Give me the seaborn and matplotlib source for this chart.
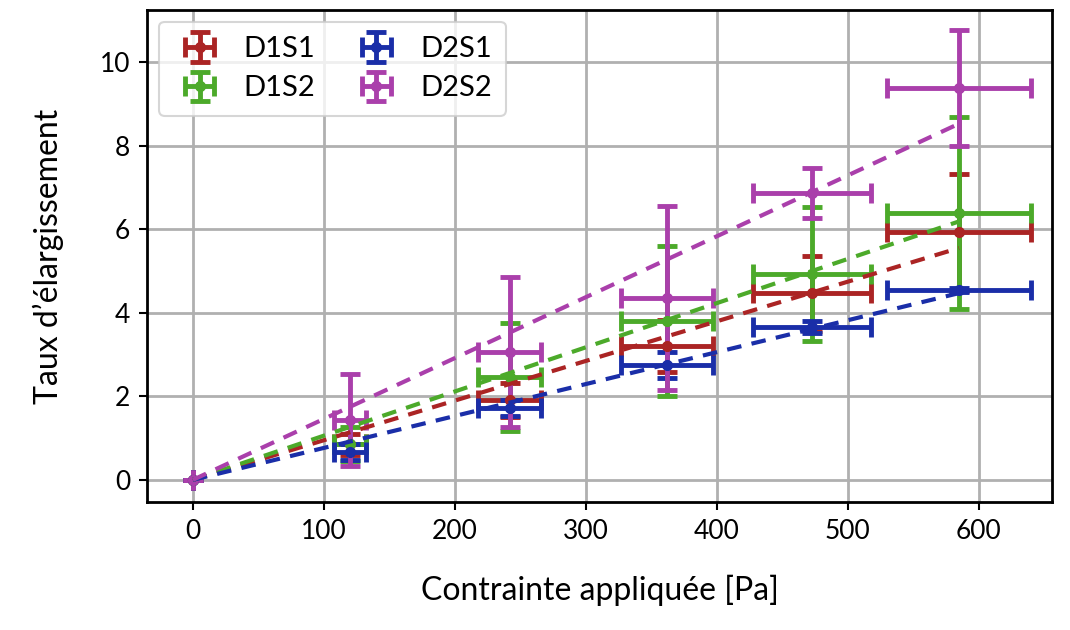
import numpy as np
import pandas as pd
import matplotlib
matplotlib.use("Agg")
import matplotlib.pyplot as plt
import seaborn as sns

stress = [0, 120, 242, 362, 473, 585]
stress_err = [0, 12, 24, 35, 45, 55]

series_names = ["D1S1", "D1S2", "D2S1", "D2S2"]
d1s1 = [0, 0.85, 1.91, 3.2, 4.47, 5.93]
d1s1_err = [0, 0.25, 0.4, 0.62, 0.9, 1.4]
d1s2 = [0, 0.86, 2.46, 3.8, 4.93, 6.39]
d1s2_err = [0, 0.4, 1.3, 1.8, 1.6, 2.3]
d2s1 = [0, 0.67, 1.72, 2.75, 3.66, 4.55]
d2s1_err = [0, 0.2, 0.2, 0.32, 0.15, 0.05]
d2s2 = [0, 1.43, 3.06, 4.35, 6.87, 9.38]
d2s2_err = [0, 1.1, 1.8, 2.2, 0.6, 1.39]

colors = ["#ab2424", "#4caa2a", "#1a2ea8", "#aa3fab"]

sns.set_style("whitegrid")
plt.rcParams['font.family'] = ['Lato', 'DejaVu Sans']
plt.rcParams['text.color'] = 'black'
plt.rcParams['axes.labelcolor'] = 'black'
plt.rcParams['xtick.color'] = 'black'
plt.rcParams['ytick.color'] = 'black'

fig, ax = plt.subplots(figsize=(10.7, 6.3), dpi=100)
fig.subplots_adjust(left=147/1070, right=1052/1070, top=1-10/630, bottom=1-502/630)

values = [d1s1, d1s2, d2s1, d2s2]
errs = [d1s1_err, d1s2_err, d2s1_err, d2s2_err]

x = np.array(stress, dtype=float)
handles = []
for name, y, ye, c in zip(series_names, values, errs, colors):
    y = np.array(y, dtype=float)
    h = ax.errorbar(x, y, xerr=stress_err, yerr=ye, fmt="o", color=c, ms=7,
                    elinewidth=3.5, capsize=7, capthick=3.5, label=name, zorder=3)
    handles.append(h)
    slope = np.sum(x * y) / np.sum(x * x)
    fit = pd.DataFrame({"x": [0, x[-1]], "y": [0, slope * x[-1]]})
    sns.lineplot(data=fit, x="x", y="y", ax=ax, color=c, lw=3,
                 linestyle=(0, (3.5, 2.5)), zorder=4, legend=False)

ax.set_xlim(-35, 656)
ax.set_ylim(-0.53, 11.25)
ax.set_xticks([0, 100, 200, 300, 400, 500, 600])
ax.set_yticks([0, 2, 4, 6, 8, 10])
ax.grid(True, color="#b0b0b0", lw=2)
for s in ax.spines.values():
    s.set_color("black")
    s.set_linewidth(2)
ax.tick_params(axis="both", which="major", length=6, width=1.5, color="black",
               labelsize=19, labelcolor="black", direction="out",
               bottom=True, left=True, pad=6)
ax.set_xlabel("Contrainte appliquée [Pa]", fontsize=23, labelpad=22, color="black")
ax.set_ylabel("Taux d’élargissement", fontsize=23, labelpad=26, color="black")

leg = ax.legend(handles=handles, labels=series_names, ncol=2, loc="upper left",
                fontsize=21, frameon=True, handlelength=1.8, handletextpad=0.6,
                columnspacing=1.2, borderaxespad=0.4, labelspacing=0.45,
                borderpad=0.5)
leg.get_frame().set_edgecolor("#cccccc")
leg.get_frame().set_linewidth(1.5)

fig.savefig("out.png", dpi=100)
